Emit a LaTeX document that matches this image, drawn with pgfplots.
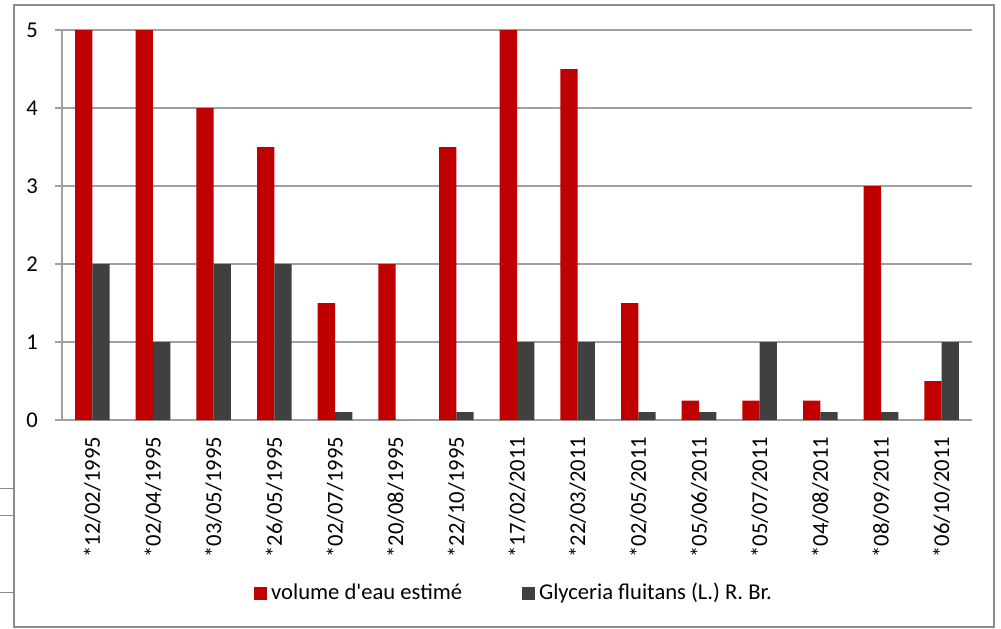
\documentclass[border=0pt]{standalone}
\usepackage{pgfplots}
\pgfplotsset{compat=1.18}
\usepackage{fontspec}
\setmainfont{Carlito}
\definecolor{barred}{HTML}{C00000}
\definecolor{bargray}{HTML}{404040}
\definecolor{gridgray}{HTML}{A0A0A0}
\definecolor{framegray}{HTML}{8C8C8C}
\begin{document}
\begin{tikzpicture}[x=1pt,y=1pt]
\useasboundingbox (-31,-104) rectangle (469.5,210);
\draw[framegray,line width=1.2pt] (-24,-103.5) rectangle (466,207.5);
\draw[framegray,line width=0.5pt] (-31,-34) -- (-24,-34);
\draw[framegray,line width=0.5pt] (-31,-47.5) -- (-24,-47.5);
\draw[framegray,line width=0.5pt] (-31,-86) -- (-24,-86);
\begin{axis}[
  at={(0,0)}, anchor=south west,
  scale only axis,
  width=455pt, height=195pt,
  xmin=-0.5, xmax=14.5,
  ymin=0, ymax=5,
  ytick={0,1,2,3,4,5},
  ymajorgrids,
  grid style={gridgray, line width=0.6pt},
  axis x line*=bottom,
  axis y line*=left,
  axis line style={gridgray, line width=0.6pt},
  every outer x axis line/.append style={-},
  every outer y axis line/.append style={-},
  tick align=outside,
  major tick length=3.5pt,
  minor tick length=3.5pt,
  tick style={gridgray, line width=0.6pt},
  xtick={0,...,14},
  xticklabels={*12/02/1995,*02/04/1995,*03/05/1995,*26/05/1995,*02/07/1995,*20/08/1995,*22/10/1995,*17/02/2011,*22/03/2011,*02/05/2011,*05/06/2011,*05/07/2011,*04/08/2011,*08/09/2011,*06/10/2011},
  x tick style={draw=none},
  minor xtick={-0.5,0.5,...,14.5},
  x tick label style={rotate=90, anchor=east, font=\fontsize{11.3}{13}\selectfont, xshift=-1.5pt},
  y tick label style={font=\fontsize{11.3}{13}\selectfont, xshift=-5pt},
  /pgf/number format/assume math mode=true,
  ybar=0pt,
  bar width=8.65pt,
  legend style={at={(0.498,-0.444)}, anchor=center, draw=none, legend columns=2,
    font=\fontsize{11.3}{13}\selectfont,
    /tikz/every even column/.append style={column sep=28pt}},
  legend image code/.code={\fill[#1] (0pt,-3.2pt) rectangle (6.4pt,3.2pt);},
]
\addplot[fill=barred, draw=none, bar shift=-4.325pt] coordinates {(0,5) (1,5) (2,4) (3,3.5) (4,1.5) (5,2) (6,3.5) (7,5) (8,4.5) (9,1.5) (10,0.25) (11,0.25) (12,0.25) (13,3) (14,0.5)};
\addplot[fill=bargray, draw=none, bar shift=4.325pt] coordinates {(0,2) (1,1) (2,2) (3,2) (4,0.1) (5,0) (6,0.1) (7,1) (8,1) (9,0.1) (10,0.1) (11,1) (12,0.1) (13,0.1) (14,1)};
\legend{volume d\textquotesingle eau estimé, Glyceria fluitans (L.) R. Br.}
\end{axis}
\end{tikzpicture}
\end{document}
